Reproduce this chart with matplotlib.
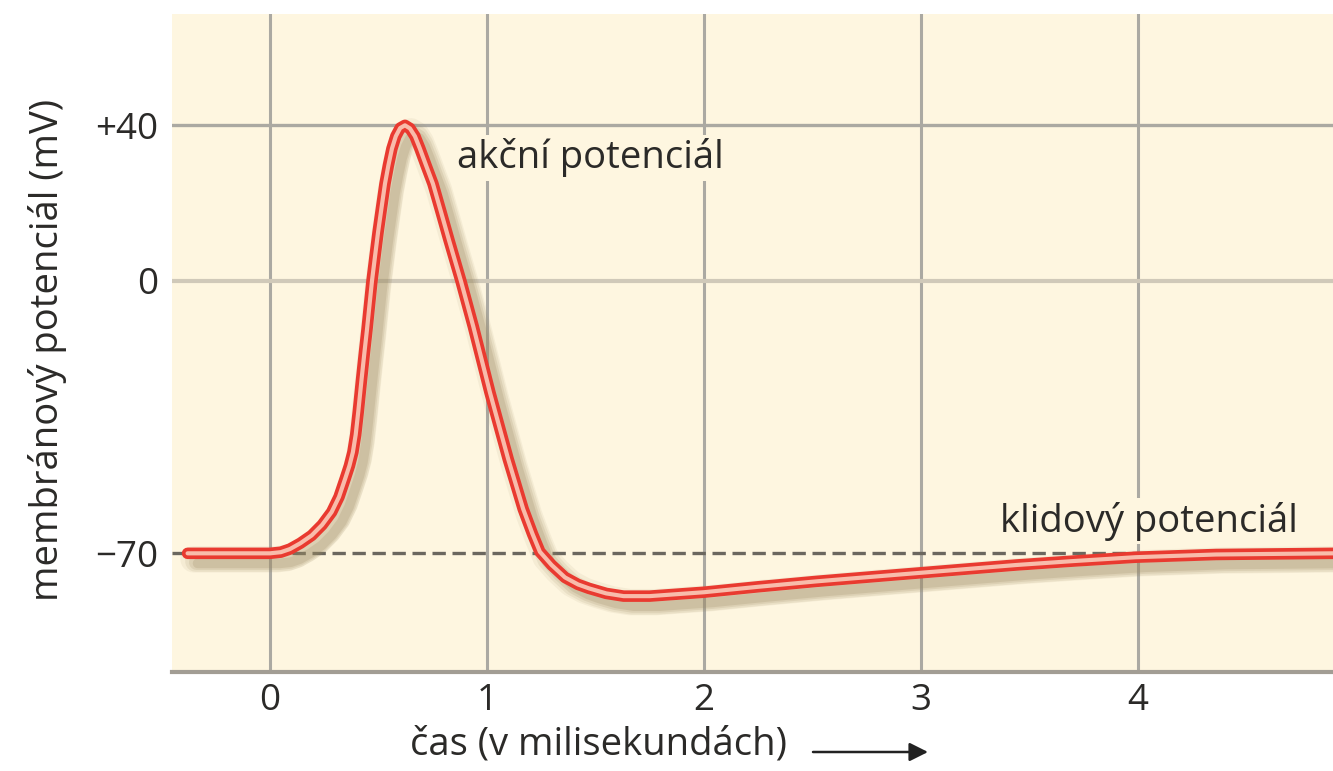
import numpy as np
import matplotlib.pyplot as plt
from matplotlib.transforms import ScaledTranslation

plt.rcParams['font.family'] = ['Open Sans', 'DejaVu Sans']

# cas v ms a membranovy potencial v mV
cas = [-0.38, -0.2, 0.0, 0.05, 0.092, 0.14, 0.192, 0.24, 0.284, 0.318, 0.346,
       0.366, 0.382, 0.395, 0.407, 0.422, 0.435, 0.447, 0.458, 0.470, 0.484,
       0.498, 0.514, 0.530, 0.546, 0.562, 0.58, 0.60, 0.622, 0.645, 0.668, 0.691,
       0.72, 0.751, 0.787, 0.825, 0.88, 0.937, 1.014, 1.098, 1.167, 1.21, 1.244,
       1.298, 1.36, 1.42, 1.47, 1.55, 1.63, 1.75, 2.0, 2.25, 2.52, 2.89,
       3.0, 3.44, 3.7, 3.99, 4.36, 4.9]
potencial = [-70, -70, -70, -69.7, -68.9, -67.4, -65.4, -62.7, -59.4, -55.5, -50.9,
             -47.5, -44, -39.5, -33.5, -25.3, -18.5, -12.5, -6.5, 0, 6.3,
             12.5, 18.8, 25, 29.8, 34, 37.2, 39.3, 40, 39.2, 37.2, 34,
             29.6, 25, 18, 10.5, 0, -11.7, -28.7, -45.8, -58.6, -65, -69.6,
             -73, -76.2, -78, -79, -80.3, -81, -81, -80, -78.6, -77.2, -75.5,
             -75, -73, -72, -71, -70.3, -70]

x_ticks = [0, 1, 2, 3, 4]
y_ticks = [40, 0, -70]
y_tick_labels = ['+40', '0', '\u221270']
klid = -70

cream = '#fef6e0'
grid_c = '#aba9a2'
text_c = '#2b2a28'

fig = plt.figure(figsize=(13.33, 7.71), dpi=100)
ax = fig.add_axes([0.129, 0.1284, 0.871, 0.8534])
ax.set_facecolor(cream)
ax.set_xlim(-0.452, 4.9)
ax.set_ylim(-100.5, 68.6)

for xt in x_ticks:
    ax.axvline(xt, color=grid_c, lw=2.2, zorder=1)
ax.axhline(40, color=grid_c, lw=2.4, zorder=1)
ax.axhline(0, color='#d0c9b9', lw=3.0, zorder=1)
ax.axhline(klid, color='#6b675f', lw=2.4, ls=(0, (4, 2)), zorder=2)

# stin pod krivkou
for dx, dy, a, w in [(6, -6, 0.09, 19), (8, -8, 0.13, 15), (9, -9, 0.17, 11), (10, -10, 0.22, 7)]:
    tr = ax.transData + ScaledTranslation(dx / 100, dy / 100, fig.dpi_scale_trans)
    ax.plot(cas, potencial, color='#9c8a62', lw=w, alpha=a, transform=tr,
            solid_capstyle='round', solid_joinstyle='round', zorder=3)

ax.plot(cas, potencial, color='#e93a30', lw=8.3, solid_capstyle='round',
        solid_joinstyle='round', zorder=4)
ax.plot(cas, potencial, color='#f8bcab', lw=3.0, solid_capstyle='round',
        solid_joinstyle='round', zorder=5)

box = dict(boxstyle='square,pad=0.1', fc=cream, ec='none')
ax.text(0.862, 31.6, 'akční potenciál', fontsize=27.5, color=text_c,
        ha='left', va='center', bbox=box, zorder=6)
ax.text(3.364, -61.7, 'klidový potenciál', fontsize=27.5, color=text_c,
        ha='left', va='center', bbox=box, zorder=6)

ax.set_xticks(x_ticks)
ax.set_yticks(y_ticks)
ax.set_yticklabels(y_tick_labels)
ax.tick_params(length=0, labelsize=26.5, labelcolor=text_c)
ax.tick_params(axis='x', pad=8)
ax.tick_params(axis='y', pad=10)
for s in ['top', 'right', 'left']:
    ax.spines[s].set_visible(False)
ax.spines['bottom'].set_color('#a29d94')
ax.spines['bottom'].set_linewidth(3.0)

fig.text(48 / 1333, 1 - 350 / 771, 'membránový potenciál (mV)', rotation=90,
         fontsize=27.5, color=text_c, ha='center', va='center')
fig.text(410 / 1333, 1 - 745 / 771, 'čas (v milisekundách)', fontsize=27.5,
         color=text_c, ha='left', va='center')
ax.annotate('', xy=(928 / 1333, 1 - 752 / 771), xytext=(813 / 1333, 1 - 752 / 771),
            xycoords='figure fraction', textcoords='figure fraction',
            arrowprops=dict(arrowstyle='-|>', mutation_scale=28, lw=1.8,
                            color='#222222', shrinkA=0, shrinkB=0))

fig.savefig('out.png', dpi=100, facecolor='white')
